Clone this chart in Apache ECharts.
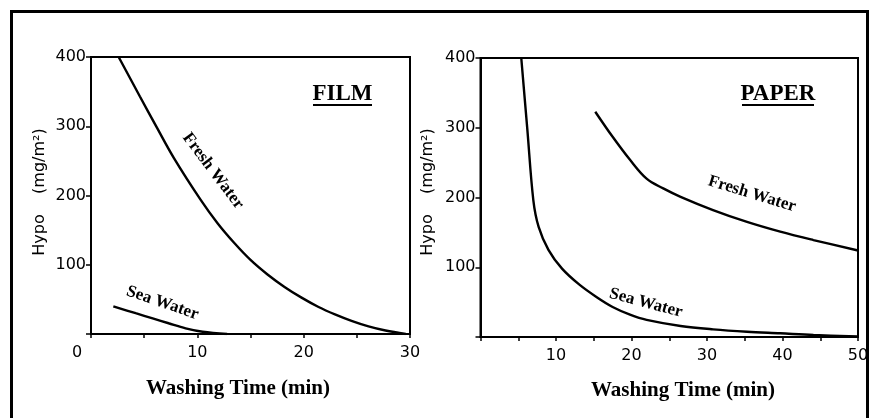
<!DOCTYPE html>
<html>
<head>
<meta charset="utf-8">
<script src="https://cdn.jsdelivr.net/npm/echarts@6/dist/echarts.min.js"></script>
<style>html,body{margin:0;padding:0;background:#fff}#c{width:880px;height:418px}</style>
</head>
<body>
<div id="c"></div>
<script>
// FILM panel
const filmFreshT = [2.6, 4.6, 6.2, 7.8, 10.3, 11.9, 13.5, 15.0, 16.6, 18.2, 19.8, 21.4, 23.0, 24.5, 26.1, 27.7, 29.6];
const filmFreshV = [400, 343, 298, 254, 194, 160, 131, 107, 86, 68, 52.5, 39, 28, 19, 11, 5, 0];
const filmSeaT = [2.1, 4.2, 5.8, 7.3, 8.9, 10.5, 12.8];
const filmSeaV = [40, 30, 22.6, 15.5, 8.2, 3.3, 0];
// PAPER panel
const paperFreshT = [15.2, 17.5, 19.8, 22.0, 24.2, 26.5, 30.8, 35.3, 39.7, 44.1, 50];
const paperFreshV = [323, 287, 254, 227, 213, 201, 182, 165, 151, 139, 124];
const paperSeaT = [5.4, 6.2, 7.0, 7.7, 9.0, 10.8, 13.1, 15.4, 17.5, 19.8, 22.0, 26.5, 30.8, 35.3, 39.7, 44.1, 50];
const paperSeaV = [400, 298, 196, 158, 125, 98, 75, 57, 43, 32, 24.5, 15.8, 11, 7.6, 5.3, 2.9, 0.8];
// tick labels
const filmXLabels = [0, 10, 20, 30];
const paperXLabels = [10, 20, 30, 40, 50];
const yLabels = [100, 200, 300, 400];

const zip = (a, b) => a.map((v, i) => [v, b[i]]);

const chart = echarts.init(document.getElementById('c'), null, {renderer: 'canvas'});
const labelFont = {color: '#000', fontFamily: 'DejaVu Sans', fontSize: 16};
const axLine = {show: true, lineStyle: {color: '#000', width: 2}};
const tick = {show: true, length: 4, lineStyle: {color: '#000', width: 1.5}};

function yAxis(gi) {
  return {
    type: 'value', gridIndex: gi, min: 0, max: 400, interval: 100,
    axisLine: axLine, splitLine: {show: false},
    axisTick: {show: true, length: 5, lineStyle: {color: '#000', width: 1.5}},
    axisLabel: Object.assign({margin: 5, formatter: v => yLabels.includes(v) ? String(v) : ''}, labelFont)
  };
}
const lineStyle = {color: '#000', width: 2.4};
function ser(xi, data) {
  return {type: 'line', xAxisIndex: xi, yAxisIndex: xi, data, showSymbol: false,
    smooth: 0.35, lineStyle, clip: true, silent: true};
}

const titleFont = 'bold 23px "Liberation Serif"';
const annFont = 'bold 17px "Liberation Serif"';
const nameFont = 'bold 21px "Liberation Serif"';
const yNameFont = '16px "DejaVu Sans"';
function txt(x, y, text, font, rot) {
  return {type: 'text', x, y, rotation: (rot || 0) * Math.PI / 180, silent: true,
    style: {text, font, fill: '#000', align: 'center', verticalAlign: 'middle'}};
}
function uline(x1, x2, y) {
  return {type: 'line', silent: true, shape: {x1, y1: y, x2, y2: y}, style: {stroke: '#000', lineWidth: 2}};
}

chart.setOption({
  animation: false,
  backgroundColor: '#fff',
  grid: [
    {left: 91, top: 57, width: 319, height: 277, show: true, borderColor: '#000', borderWidth: 2},
    {left: 480.5, top: 58, width: 377.5, height: 279, show: true, borderColor: '#000', borderWidth: 2}
  ],
  xAxis: [
    {type: 'value', gridIndex: 0, min: 0, max: 30, interval: 5,
      axisLine: axLine, splitLine: {show: false}, axisTick: tick,
      axisLabel: Object.assign({margin: 11,
        formatter: v => v === 0 ? '{z|0}' : (filmXLabels.includes(v) ? String(v) : ''),
        rich: {z: {fontFamily: 'DejaVu Sans', fontSize: 16, color: '#000', padding: [0, 28, 0, 0]}}}, labelFont)},
    {type: 'value', gridIndex: 1, min: 0, max: 50, interval: 5,
      axisLine: axLine, splitLine: {show: false}, axisTick: tick,
      axisLabel: Object.assign({margin: 11,
        formatter: v => paperXLabels.includes(v) ? String(v) : ''}, labelFont)}
  ],
  yAxis: [yAxis(0), yAxis(1)],
  series: [
    ser(0, zip(filmFreshT, filmFreshV)),
    ser(0, zip(filmSeaT, filmSeaV)),
    ser(1, zip(paperFreshT, paperFreshV)),
    ser(1, zip(paperSeaT, paperSeaV))
  ],
  graphic: [
    {type: 'rect', silent: true, shape: {x: 11.5, y: 11.5, width: 856, height: 420},
      style: {fill: 'none', stroke: '#000', lineWidth: 3}},
    txt(342.5, 94, 'FILM', titleFont), uline(313, 372, 105),
    txt(778, 94, 'PAPER', titleFont), uline(742, 814, 105),
    txt(213, 171, 'Fresh Water', annFont, -53),
    txt(162.5, 303, 'Sea Water', annFont, -19),
    txt(752, 194, 'Fresh Water', annFont, -17),
    txt(646, 303, 'Sea Water', annFont, -15),
    txt(238, 389, 'Washing Time (min)', nameFont),
    txt(683, 391, 'Washing Time (min)', nameFont),
    txt(40, 192, 'Hypo    (mg/m²)', yNameFont, 90),
    txt(428, 192, 'Hypo    (mg/m²)', yNameFont, 90)
  ]
});
</script>
</body>
</html>
